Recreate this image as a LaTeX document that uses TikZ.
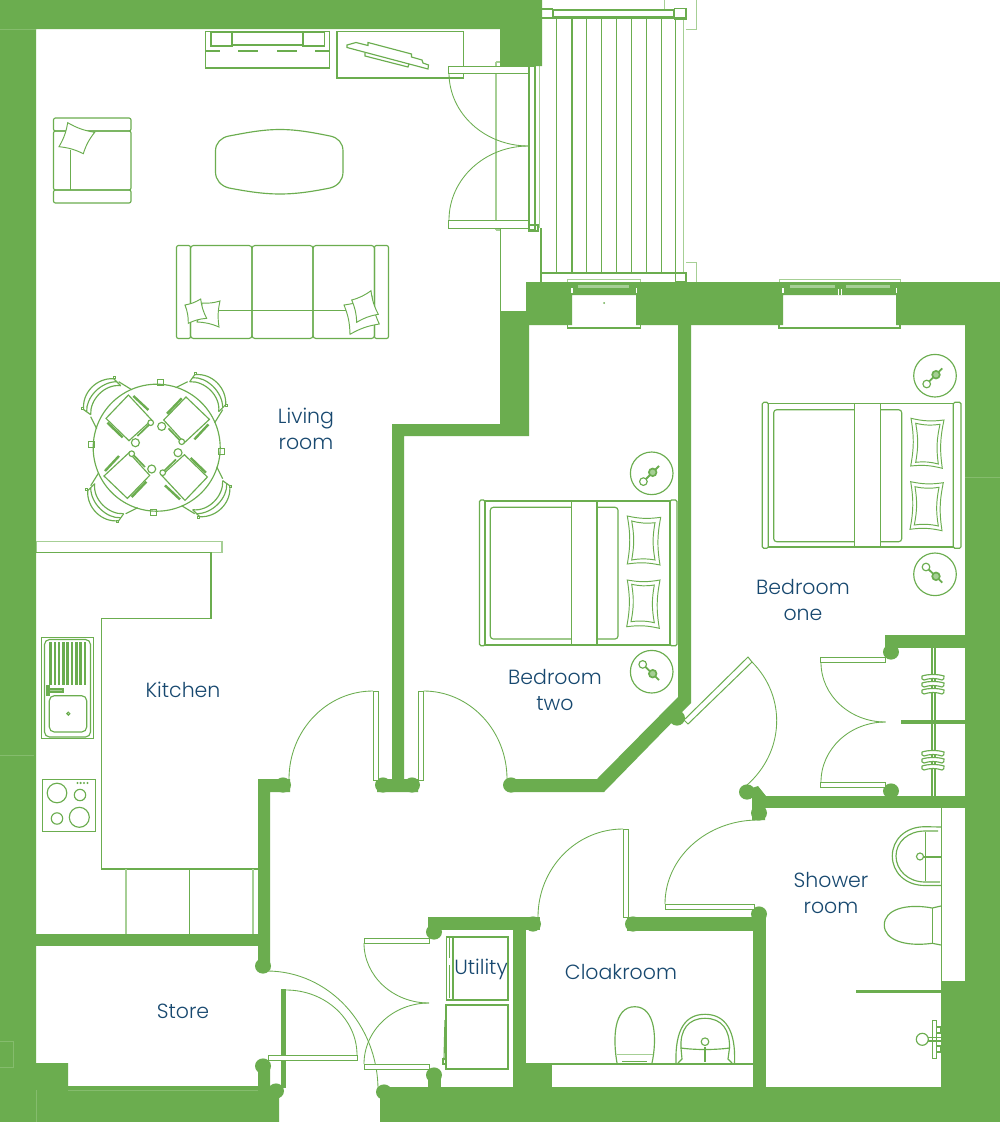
\documentclass[tikz,border=0pt]{standalone}
\usepackage{fontspec}
\setmainfont{Poppins}[UprightFont=* Light]
\usetikzlibrary{calc}
\definecolor{wallgreen}{HTML}{6BAD4F}
\definecolor{palegreen}{HTML}{A6CF95}
\definecolor{seamgreen}{HTML}{85BC6D}
\definecolor{roomblue}{HTML}{17486F}
\tikzset{
	wall/.style={fill=wallgreen,draw=none},
	seam/.style={draw=seamgreen,line width=0.4pt},
	planline/.style={draw=wallgreen,line width=1.15pt},
	paleline/.style={draw=palegreen,line width=1.2pt},
	swingline/.style={draw=wallgreen,line width=0.85pt},
	cutlery/.style={draw=wallgreen,line width=2.4pt},
	roomlabel/.style={text=roomblue,align=center,font=\fontsize{20.5}{26.5}\selectfont,inner sep=0pt},
}
\newcommand{\swing}[3]{\draw[swingline] (#1) .. controls ($(#1)!0.552!(#3)$) and ($(#2)!0.552!(#3)$) .. (#2);}
\newcommand{\pillow}[4]{\draw[planline,fill=white,line width=0.95pt] (#1) to[bend right=10] (#2) to[bend right=10] (#3) to[bend right=10] (#4) to[bend right=10] cycle;}
\newcommand{\doorleaf}[4]{\draw[planline,fill=white,line width=1pt] (#1,#2) rectangle (#3,#4);}
\begin{document}
\begin{tikzpicture}[x=1pt,y=-1pt]
\useasboundingbox (0,0) rectangle (1000,1122);
\fill[white] (0,0) rectangle (1000,1122);
\draw[planline] (205.5,31.5) rectangle (329.5,68);
\draw[planline] (211,32) rectangle (232,46);
\draw[planline] (232,32) rectangle (303,45);
\draw[planline] (303,32) rectangle (324.7,46);
\draw[planline] (205.5,51) -- (220,51);
\draw[planline] (238,51) -- (258,51);
\draw[planline] (277,51) -- (297,51);
\draw[planline] (315,51) -- (329.5,51);
\draw[planline] (337,31.5) rectangle (463.7,78);
\draw[planline] (347,45) -- (356,42.5) -- (368,45.5) -- (368,42.5) -- (411.5,54) -- (411.5,57) -- (422,60) -- (423,63) -- (428.5,65) -- (428,69) -- (347,47.5) -- cycle;
\draw[planline] (365,53) -- (365,56) -- (408,67) -- (409,64);
\draw[planline,rounded corners=2] (53.5,118) rectangle (131,131);
\draw[planline,rounded corners=2] (53.5,190) rectangle (131,203);
\draw[planline,rounded corners=2] (53.5,131) rectangle (131,190);
\draw[planline] (70.5,150) -- (70.5,190);
\pillow{67.7,122.7}{94.7,132.3}{83.3,153.7}{59,146.7}
\draw[planline] (229,136) .. controls (245,133) and (262,129.5) .. (280,129.5) .. controls (298,129.5) and (315,133) .. (330,136) .. controls (338,137.5) and (343,143) .. (343,151) -- (343,172) .. controls (343,180) and (338,186) .. (330,188) .. controls (315,191) and (298,194) .. (280,194) .. controls (262,194) and (245,191) .. (229,188) .. controls (221,186) and (215.5,180) .. (215.5,172) -- (215.5,151) .. controls (215.5,143) and (221,137.5) .. (229,136) -- cycle;
\draw[planline,rounded corners=2] (176.5,245.5) rectangle (190.5,338.5);
\draw[planline,rounded corners=2] (374.5,245.5) rectangle (388.5,338.5);
\draw[planline,rounded corners=3] (190.5,245.5) rectangle (252,338.5);
\draw[planline,rounded corners=3] (252,245.5) rectangle (313,338.5);
\draw[planline,rounded corners=3] (313,245.5) rectangle (374.5,338.5);
\draw[planline] (190.5,310.5) -- (374.5,310.5);
\pillow{202,303}{220,301}{219,327}{197,322}
\pillow{185,305}{200.7,299}{206.7,318.3}{188.3,323.3}
\pillow{344,305}{372,296}{379.3,324}{350,334.3}
\pillow{351.7,300}{371,290.7}{378.3,314.3}{356.7,322.3}
\draw[planline] (156.7,447.7) circle (63.5);
\foreach \a in {0,90,180,270}{
\begin{scope}[shift={(156.7,447.7)},rotate=\a]
\draw[planline] (-28.3,-52.7) -- (-5,-27.7) -- (-27.7,-7) -- (-50.7,-29.3) -- cycle;
\draw[cutlery] (-23.3,-51.7) -- (-8.3,-37.7);
\draw[cutlery] (-49.3,-25) -- (-34,-10.3);
\draw[planline,line width=1.7pt] (-19.3,-11.7) -- (-7,-23.5);
\draw[planline,fill=white] (-6,-25) circle (2.8);
\draw[planline] (-21.3,-5) circle (4);
\draw[planline] (0.6,-68) rectangle (6.6,-62);
\draw[planline] (-73,-38) .. controls (-75,-55) and (-60,-70) .. (-43,-69);
\draw[planline] (-66,-33) .. controls (-67,-48) and (-52,-64) .. (-36,-62);
\draw[planline] (-73,-38) -- (-66,-33);
\draw[planline] (-43,-69) -- (-36,-62);
\draw[planline] (-70,-36) .. controls (-71,-50) and (-56,-66) .. (-40,-66);
\draw[planline] (-66,-31) -- (-60,-19);
\draw[planline] (-38,-66) -- (-25,-58);
\draw[planline] (-75,-40) rectangle (-73,-38);
\draw[planline] (-43,-71) rectangle (-41,-69);
\end{scope}
}
\draw[paleline] (36,541.7) rectangle (222,552.7);
\draw[planline] (36,552.7) -- (211,552.7) -- (211,618.7) -- (101.5,618.7) -- (101.5,869) -- (258,869);
\draw[paleline] (126,869) -- (126,934);
\draw[planline] (189.5,869) -- (189.5,934);
\draw[paleline] (253,869) -- (253,934);
\draw[planline] (41.3,637.3) rectangle (93.7,738.3);
\draw[planline,rounded corners=5] (44.5,639.5) rectangle (90.5,737);
\foreach \x in {50.5,54.8,...,85}{
\draw[draw=wallgreen,line width=2.6pt] (\x,642) -- (\x,685);
}
\draw[planline,rounded corners=5] (49.3,695.7) rectangle (86.7,732);
\draw[planline] (68.3,713.7) circle (1.5);
\fill[wallgreen] (46,685) rectangle (49.5,696);
\draw[planline,fill=palegreen] (49.5,689) rectangle (63,692);
\draw[planline] (42.7,779.3) rectangle (95.7,831.3);
\draw[planline] (57,793) circle (9.8);
\draw[planline] (80,795) circle (5.7);
\draw[planline] (57,818.5) circle (5.7);
\draw[planline] (79.3,817.3) circle (10);
\foreach \x in {77.5,80.6,84,87.5}{
\fill[wallgreen] (\x,783) circle (1.2);
}
\draw[planline,rounded corners=1.5] (479.5,500) rectangle (485,645.7);
\draw[planline,rounded corners=1.5] (670,500) rectangle (677,645.7);
\draw[planline] (485,501) rectangle (670,645);
\draw[planline,rounded corners=3] (490.3,507.3) rectangle (618,639);
\draw[planline,fill=white] (571.3,501) rectangle (597,645);
\pillow{627.3,516}{660.7,517.3}{660,565}{627.3,564}
\pillow{631.7,521}{655,522.7}{655,560}{631.7,560}
\pillow{627.3,580}{660,580}{659.3,628.3}{626.7,626.7}
\pillow{631.7,584.3}{654.3,585}{654.3,622.7}{631,621.7}
\draw[planline,rounded corners=1.5] (762.3,402.3) rectangle (768.3,548.3);
\draw[planline,rounded corners=1.5] (953.3,402.3) rectangle (961,548.3);
\draw[planline] (768.3,403.5) rectangle (953.3,547);
\draw[planline,rounded corners=3] (773.7,409.7) rectangle (901.7,541.7);
\draw[planline,fill=white] (854.7,403.5) rectangle (880.7,547);
\pillow{911,418.3}{944,420}{942.3,468.3}{910.7,466}
\pillow{915.7,423.3}{940,424.3}{938.3,464}{915.7,462.3}
\pillow{910.7,481.7}{943.3,482.7}{942,530.7}{910,529.3}
\pillow{915,486.7}{939,487.3}{938.3,526}{914.3,525}
\foreach \cx/\cy in {651.7/473.3,935/375.7}{
\begin{scope}[shift={(\cx,\cy)}]
\draw[planline] (0,0) circle (21.3);
\draw[planline,line width=1.8pt] (-6,6) -- (7.3,-7.3);
\draw[planline] (-8.3,8.3) circle (3.8);
\draw[planline,fill=palegreen,line width=1.7pt] (1,-1) circle (3.8);
\end{scope}
}
\foreach \cx/\cy in {651.7/671.7,935/574.3}{
\begin{scope}[shift={(\cx,\cy)}]
\draw[planline] (0,0) circle (21.3);
\draw[planline,line width=1.8pt] (-6.5,-5) -- (7.3,8.3);
\draw[planline] (-9,-7.3) circle (3.8);
\draw[planline,fill=palegreen,line width=1.7pt] (1,2) circle (3.8);
\end{scope}
}
\draw[planline] (932,648) -- (932,796);
\draw[planline] (935,648) -- (935,796);
\foreach \y in {678,685,692,754,761,768}{
\draw[planline,fill=white] (922,\y-2) .. controls (928,\y-4) and (938,\y-4) .. (944,\y-2) .. controls (945,\y) and (943,\y+2) .. (942,\y+2) .. controls (936,\y) and (930,\y) .. (924,\y+2) .. controls (922,\y+2) and (921,\y) .. (922,\y-2);
}
\draw[planline] (941.7,808) -- (941.7,981);
\draw[planline] (941,827) -- (925,826.7) .. controls (905,826.7) and (892.3,840) .. (892.3,856) .. controls (892.3,872) and (905,885.5) .. (925,885.5) -- (941,885.5);
\draw[planline] (938,831) -- (925,831) .. controls (908,831) and (896,842) .. (896,856) .. controls (896,870) and (908,882) .. (925,882) -- (940,882);
\draw[planline] (925.7,832) -- (925.7,881);
\draw[planline] (920,856.5) circle (3.5);
\draw[planline,line width=1.8pt] (923,856.8) -- (941,856.8);
\draw[planline] (941,906) -- (932.3,908) .. controls (905,903) and (884.3,910) .. (884.3,925) .. controls (884.3,940) and (905,947) .. (932.3,943.3) -- (941,945);
\draw[planline] (932.3,908) -- (932.3,943.3);
\draw[planline] (932.3,1020.7) rectangle (936.3,1058.3);
\draw[planline] (922.3,1039.3) circle (6);
\draw[planline] (928,1037.5) -- (941,1037.5);
\draw[planline] (928,1041) -- (941,1041);
\draw[planline] (936.3,1027) rectangle (941,1033);
\draw[planline] (936.3,1046) rectangle (941,1052);
\draw[draw=wallgreen,line width=3pt] (856,991) -- (941,991);
\draw[planline] (552,1064) -- (753,1064);
\draw[planline] (617,1063) .. controls (613,1040) and (613,1006.7) .. (634.7,1006.7) .. controls (656,1006.7) and (657,1040) .. (652,1063);
\draw[paleline] (616.5,1054.3) -- (652.5,1054.3);
\draw[planline] (622,1061.5) -- (647,1061.5);
\draw[planline] (676,1063) .. controls (675,1030) and (685,1014.3) .. (705,1014.3) .. controls (725,1014.3) and (736,1030) .. (734.5,1063);
\draw[planline] (681,1048) .. controls (680,1030) and (688,1018.3) .. (705,1018.3) .. controls (722,1018.3) and (730,1030) .. (729.5,1048);
\draw[planline] (681,1048) .. controls (695,1050) and (715,1050) .. (729.5,1048) -- (728,1059) -- (732,1063);
\draw[planline] (681,1048) -- (682,1059) -- (678,1063);
\draw[planline] (705,1041.7) circle (3.8);
\draw[draw=wallgreen,line width=2.4pt] (705,1047) -- (705,1062);
\draw[planline] (446.7,937) rectangle (508,1000);
\draw[planline] (453,937) -- (453,1000);
\draw[planline] (449.5,938) -- (449.5,958);
\draw[planline] (449.5,965) -- (449.5,998);
\draw[planline] (446,1005) rectangle (508,1069);
\draw[planline] (445,1020) -- (444,1060);
\draw[planline] (443,1059) rectangle (446,1064);
\draw[draw=palegreen,line width=0.7pt] (664,0) -- (664,9);
\draw[draw=palegreen,line width=0.7pt] (696,0) -- (696,29) -- (686,29);
\draw[draw=palegreen,line width=0.7pt] (686,262) -- (696,262) -- (696,282);
\draw[planline] (542,9) -- (553,9);
\draw[planline] (553,10) rectangle (674,17);
\draw[planline] (542,18) -- (686,18);
\foreach \x in {556.8,572,586.8,601.8,616.4,631.4,646.4,661.4,675.7}{
\draw[planline,line width=1.3pt] (\x,18) -- (\x,273);
}
\draw[paleline] (683.6,18) -- (683.6,273);
\draw[planline] (542,273) -- (686,273);
\draw[planline,line width=1.5pt] (674.5,8.5) rectangle (686,19);
\draw[planline,line width=1.3pt] (675.7,273) rectangle (686,282);
\draw[paleline] (496,62) -- (496,230);
\draw[paleline] (496,62) -- (500,62);
\draw[paleline] (496,230) -- (500,230);
\draw[planline,line width=1.3pt] (529,66) rectangle (535,230);
\draw[paleline] (539.5,66) -- (539.5,228);
\draw[planline,line width=1.7pt] (529,225) rectangle (538,231);
\doorleaf{448.2}{66}{528.6}{73}
\doorleaf{448.2}{220}{528.6}{228}
\swing{449,73}{528.6,146}{449,146}
\swing{449,220}{528.6,146}{449,146}
\draw[planline,line width=1.3pt] (500.5,228) -- (500.5,311);
\draw[planline,line width=1.3pt] (541,228) -- (541,282);
\draw[planline,line width=1.3pt] (500.5,228.5) -- (529,228.5);
\fill[wall] (0,0) -- (542,0) -- (542,66) -- (500,66) -- (500,29) -- (36,29) -- (36,1122) -- (0,1122) -- cycle;
\fill[wall] (36,1122) -- (36,1063) -- (68,1063) -- (68,1086) -- (258,1086) -- (258,1062) -- (270,1062) -- (270,1088) -- (279,1088) -- (279,1122) -- cycle;
\fill[wall] (380,1087) -- (1000,1087) -- (1000,1122) -- (380,1122) -- cycle;
\fill[wall] (965,282) rectangle (1000,1087);
\fill[wall] (941,981) rectangle (965,1087);
\fill[wall] (526,282) -- (1000,282) -- (1000,325) -- (896,325) -- (896,295) -- (783,295) -- (783,325) -- (636,325) -- (636,295) -- (572,295) -- (572,325) -- (526,325) -- cycle;
\fill[wall] (500,311) -- (529,311) -- (529,436) -- (404,436) -- (404,779) -- (418,779) -- (418,792) -- (377,792) -- (377,779) -- (392,779) -- (392,424) -- (500,424) -- cycle;
\fill[wall] (678,325) -- (691,325) -- (691,703) -- (604,792) -- (510,792) -- (510,779) -- (597,779) -- (678,697) -- cycle;
\fill[wall] (36,934) rectangle (270,946);
\fill[wall] (258,779) -- (290,779) -- (290,792) -- (270,792) -- (270,970) -- (258,970) -- cycle;
\fill[wall] (281,989) rectangle (286,1088);
\fill[wall] (885,635) rectangle (965,648);
\fill[wall] (900.5,720) rectangle (965,724);
\fill[wall] (762,796) rectangle (965,808);
\fill[wall] (752,788) -- (758,786) -- (766,796) -- (765,820) -- (752,820) -- cycle;
\fill[wall] (627,917) rectangle (765,930.5);
\fill[wall] (752.5,917) rectangle (765.5,1087);
\fill[wall] (428,917) rectangle (540,930);
\fill[wall] (428,917) rectangle (441,935);
\fill[wall] (513,917) rectangle (525.5,1087);
\fill[wall] (525,1063) rectangle (552,1087);
\fill[wall] (428,1072) rectangle (441,1087);
\foreach \kx/\ky in {283/785,383/785,412/785,511/785,263/966,263/1066,276/1091,384/1092,434/932,434/1075,533/924,633/924,759/914,891/652,891/791,747/792,759/813,677/718}{
\fill[wall] (\kx,\ky) ellipse (8 and 7.6);
}
\draw[seam] (0,29) -- (36,29);
\draw[seam] (0,755) -- (34,755);
\draw[seam] (965,477) -- (1000,477);
\draw[seam] (0,1041) -- (13,1041) -- (13,1067) -- (0,1067);
\draw[seam] (36,1090) -- (36,1122);
\draw[seam] (68,1090) -- (258,1090);
\draw[palegreen,line width=0.8pt] (567.5,282) -- (567.5,279) -- (640.7,279) -- (640.7,282);
\draw[planline] (567.5,325) -- (567.5,328) -- (640.7,328) -- (640.7,325);
\draw[palegreen,line width=0.8pt] (779,282) -- (779,279) -- (900,279) -- (900,282);
\draw[planline] (779,325) -- (779,328) -- (900,328) -- (900,325);
\fill[palegreen] (578,285) rectangle (629,288);
\fill[palegreen] (790,285) rectangle (835,288);
\fill[palegreen] (846,285) rectangle (890,288);
\fill[white] (571,288) rectangle (572.5,293);
\fill[white] (635.5,288) rectangle (637,293);
\fill[white] (782,288) rectangle (783.5,293);
\fill[white] (838,289) rectangle (839,295);
\fill[white] (841,289) rectangle (842,295);
\fill[white] (895.5,288) rectangle (897,293);
\fill[wallgreen] (604,303) circle (1);
\doorleaf{373}{691}{378.3}{780}
\doorleaf{418.3}{691}{423.6}{780}
\swing{373,691}{289,779}{289,691}
\swing{423.6,691}{507,779}{507,691}
\doorleaf{820.7}{657}{885.5}{662.5}
\doorleaf{820.7}{782}{885.5}{787}
\swing{821,662.5}{885.5,722}{821,722}
\swing{821,782}{885.5,722}{821,722}
\draw[planline,fill=white,line width=1pt] (748,657) -- (752,662) -- (688,724) -- (684,720) -- cycle;
\swing{752,662}{747,785}{815,725}
\doorleaf{665}{904}{754}{909}
\swing{665,904}{758,820}{665,820}
\doorleaf{623}{829}{628}{917}
\swing{623,829}{538,917}{538,829}
\doorleaf{268}{1055}{357}{1060}
\swing{357,1055}{286,990}{357,990}
\swing{267,971}{378,1090}{378,971}
\doorleaf{364}{938}{429}{943}
\doorleaf{364}{1064}{429}{1069}
\swing{364,943}{429,1003}{364,1003}
\swing{364,1064}{429,1003}{364,1003}
\node[roomlabel] (livingroom) at (306,429) {Living\\room};
\node[roomlabel] (kitchen) at (183,690) {Kitchen};
\node[roomlabel] (bedroomone) at (803,600) {Bedroom\\one};
\node[roomlabel] (bedroomtwo) at (555,690) {Bedroom\\two};
\node[roomlabel] (showerroom) at (831,893) {Shower\\room};
\node[roomlabel] (store) at (183,1011) {Store};
\node[roomlabel] (utility) at (481,969) {Utility};
\node[roomlabel] (cloakroom) at (621,972) {Cloakroom};
\end{tikzpicture}
\end{document}
